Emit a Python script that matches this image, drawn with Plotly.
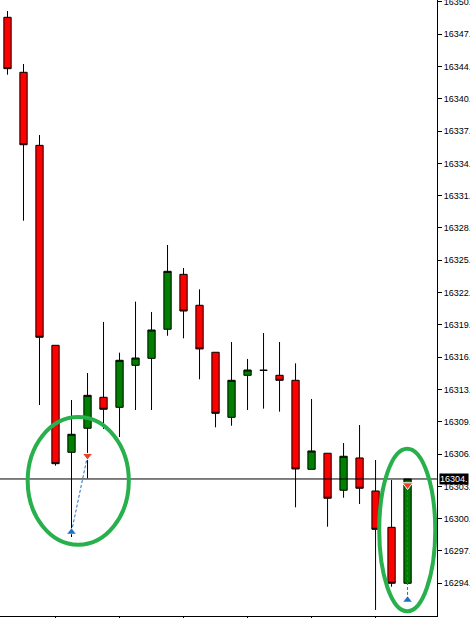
import plotly.graph_objects as go

# ---- data ----
idx = list(range(26))
opens = [16348.77, 16343.49, 16336.48, 16317.29, 16307.02, 16309.33, 16312.30, 16311.34,
         16315.37, 16316.04, 16318.83, 16324.10, 16321.13, 16316.62, 16310.38, 16314.41,
         16314.89, 16314.41, 16313.93, 16305.39, 16306.93, 16303.38, 16306.48, 16303.31,
         16299.82, 16294.45]
highs = [16349.37, 16344.29, 16337.47, 16317.29, 16312.04, 16314.63, 16319.53, 16316.58,
         16321.48, 16320.49, 16326.92, 16324.71, 16322.66, 16316.62, 16317.61, 16315.98,
         16318.47, 16317.61, 16315.56, 16312.14, 16306.93, 16307.91, 16309.64, 16306.28,
         16304.36, 16304.46]
lows = [16343.26, 16329.25, 16311.56, 16305.74, 16298.89, 16304.53, 16309.26, 16308.49,
        16311.08, 16311.08, 16318.21, 16317.96, 16314.03, 16309.42, 16309.57, 16311.08,
        16311.21, 16310.92, 16301.74, 16305.39, 16299.88, 16302.66, 16302.06, 16291.89,
        16294.12, 16294.45]
closes = [16343.84, 16336.54, 16318.06, 16305.93, 16308.75, 16312.49, 16311.15, 16315.85,
          16316.07, 16318.76, 16324.39, 16320.58, 16316.94, 16310.76, 16313.93, 16314.92,
          16314.89, 16313.93, 16305.42, 16307.15, 16302.61, 16306.64, 16303.57, 16299.63,
          16294.45, 16304.46]

# signal arrows
buy_idx = [4, 25]
buy_price = [16299.37, 16292.85]
sell_idx = [5, 25]
sell_price = [16306.70, 16303.88]

current_price = 16304.46
current_label = "16304."

y_tickvals = [16294.45, 16297.55, 16300.65, 16303.75, 16306.85, 16309.95, 16313.05,
              16316.15, 16319.25, 16322.35, 16325.45, 16328.55, 16331.65, 16334.75,
              16337.85, 16340.95, 16344.05, 16347.15, 16350.25]
y_ticktext = ["16294.", "16297.", "16300.", "16303.", "16306.", "16309.", "16313.",
              "16316.", "16319.", "16322.", "16325.", "16328.", "16331.", "16334.",
              "16337.", "16340.", "16344.", "16347.", "16350."]
x_tickvals = [3, 7, 11, 15, 19, 23]

fig = go.Figure()

# dotted signal connectors (under the candles)
for b_i, b_p, s_i, s_p in zip(buy_idx, buy_price, sell_idx, sell_price):
    fig.add_trace(go.Scatter(x=[b_i, s_i], y=[b_p, s_p], mode="lines",
                             line=dict(color="#1f6fc0", width=1, dash="3px,2px"),
                             hoverinfo="skip", showlegend=False))

fig.add_trace(go.Candlestick(
    x=idx, open=opens, high=highs, low=lows, close=closes,
    increasing=dict(fillcolor="#008000", line=dict(color="black", width=1)),
    decreasing=dict(fillcolor="#FF0000", line=dict(color="black", width=1)),
    whiskerwidth=0, showlegend=False, hoverinfo="skip"))

fig.add_trace(go.Scatter(x=buy_idx, y=buy_price, mode="markers",
                         marker=dict(symbol="triangle-up", size=8, color="#1f6fc0",
                                     line=dict(color="white", width=0.5)),
                         hoverinfo="skip", showlegend=False))
fig.add_trace(go.Scatter(x=sell_idx, y=sell_price, mode="markers",
                         marker=dict(symbol="triangle-down", size=9, color="#e2452a",
                                     line=dict(color="white", width=1)),
                         hoverinfo="skip", showlegend=False))

ell_color = "#27b04b"
shapes = [
    dict(type="line", xref="paper", x0=0, x1=1, yref="y", y0=current_price, y1=current_price,
         line=dict(color="black", width=1), layer="above"),
    dict(type="circle", xref="x", yref="y", x0=1.26, x1=7.58, y0=16298.15, y1=16310.41,
         line=dict(color=ell_color, width=4), layer="above"),
    dict(type="circle", xref="x", yref="y", x0=23.23, x1=26.73, y0=16291.76, y1=16307.37,
         line=dict(color=ell_color, width=4), layer="above"),
]

fig.update_layout(
    width=470, height=618,
    margin=dict(l=0, r=33, t=0, b=2, pad=0),
    paper_bgcolor="white", plot_bgcolor="white",
    font=dict(family="Liberation Sans", size=9, color="black"),
    showlegend=False,
    boxgap=0.35,
    shapes=shapes,
    hovermode=False,
    annotations=[dict(x=1, xref="paper", xanchor="left", xshift=2,
                      y=current_price, yref="y", yanchor="middle",
                      text=current_label, showarrow=False, bgcolor="black",
                      borderpad=0, font=dict(color="white", size=9,
                                             family="Liberation Sans"))],
)
fig.update_xaxes(range=[-0.469, 26.84], showgrid=False, zeroline=False, automargin=False,
                 showline=True, linecolor="black", linewidth=1,
                 ticks="outside", ticklen=3, tickcolor="black", tickvals=x_tickvals,
                 showticklabels=False, rangeslider=dict(visible=False))
fig.update_yaxes(side="right", range=[16291.31, 16350.43], showgrid=False, zeroline=False,
                 automargin=False, ticklabeloverflow="allow",
                 showline=True, linecolor="black", linewidth=1,
                 ticks="outside", ticklen=4, tickcolor="black",
                 tickvals=y_tickvals, ticktext=y_ticktext,
                 tickfont=dict(family="Liberation Sans", size=9, color="black"))

fig.write_html("out.html", config={"displayModeBar": False},
               post_script="document.body.style.margin='0';"
                           "document.body.style.overflow='hidden';")
